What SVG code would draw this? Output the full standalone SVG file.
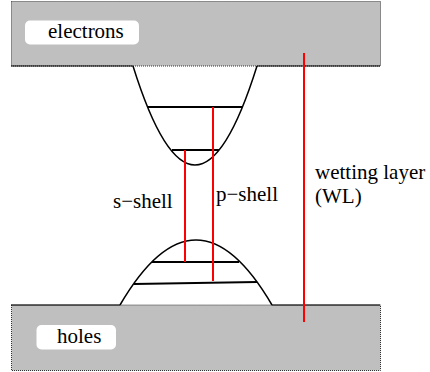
<svg xmlns="http://www.w3.org/2000/svg" width="430" height="372" viewBox="0 0 430 372">
<style>
.band{fill:#bfbfbf;stroke:#333;stroke-width:1;stroke-dasharray:1 1}
.edge{fill:none;stroke:#000;stroke-width:1.2}
.curve{fill:none;stroke:#000;stroke-width:1.5}
.level{stroke:#000;stroke-width:2.2}
.red{stroke:#ff0000;stroke-width:2}
.lbl{fill:#fff;stroke:none}
.t{font-family:"Liberation Serif","Times New Roman",Times,serif;font-size:21px;fill:#000}
</style>
<g id="electrons-band">
<rect class="band" x="11.5" y="1.5" width="369" height="64.5"/>
<rect class="lbl" x="25" y="20.5" width="114" height="24" rx="5"/>
<text class="t" x="48" y="38">electrons</text>
</g>
<g id="holes-band">
<rect class="band" x="11.5" y="305" width="369" height="65.5"/>
<rect class="lbl" x="36.5" y="325" width="79.5" height="24.5" rx="5"/>
<text class="t" x="57" y="342.5">holes</text>
</g>
<g id="electron-well">
<polyline class="edge" points="11,66 133,66"/>
<polyline class="edge" points="257,66 380,66"/>
<path class="curve" d="M133,66 Q195,264 257,66"/>
<line class="level" x1="148" y1="107" x2="243" y2="107"/>
<line class="level" x1="172" y1="150" x2="219" y2="150"/>
</g>
<g id="hole-dome">
<polyline class="edge" points="11,305 120,305"/>
<polyline class="edge" points="272,305 380,305"/>
<path class="curve" d="M120,305 Q196,175 272,305"/>
<line class="level" x1="152" y1="262" x2="239" y2="262"/>
<line class="level" x1="134" y1="284" x2="257" y2="282"/>
</g>
<g id="connectors">
<line class="red" x1="185" y1="150" x2="185" y2="262"/>
<line class="red" x1="213" y1="107" x2="213" y2="281"/>
<line class="red" x1="304" y1="53" x2="304" y2="322"/>
</g>
<g id="labels">
<text class="t" x="113" y="208">s−shell</text>
<text class="t" x="216" y="201">p−shell</text>
<text class="t" x="315" y="179">wetting layer</text>
<text class="t" x="315" y="203">(WL)</text>
</g>
</svg>
